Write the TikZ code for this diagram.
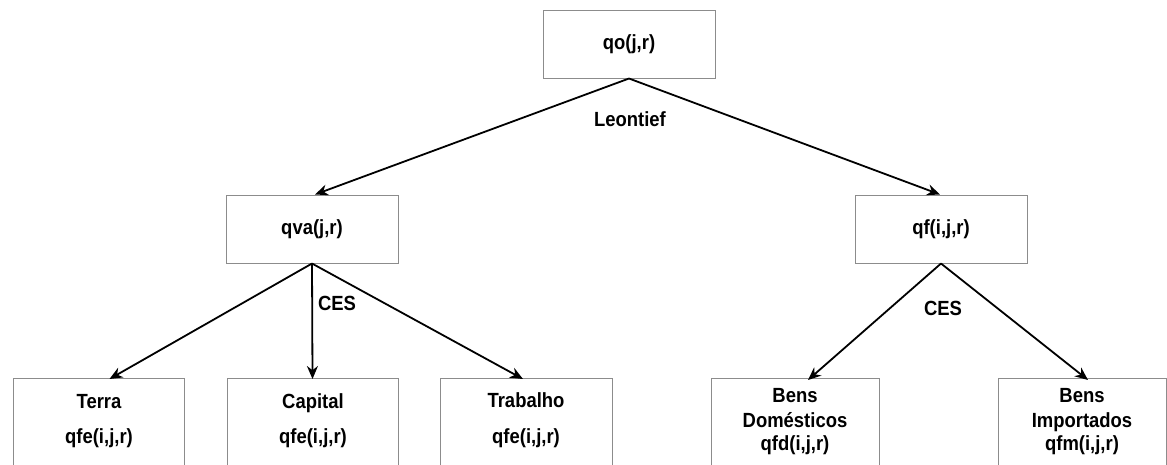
\documentclass[tikz,border=0pt]{standalone}
\usepackage{fontspec}
\setmainfont{Liberation Sans}[FakeStretch=0.9]
\usetikzlibrary{arrows.meta,calc}
\begin{document}
\begin{tikzpicture}[x=1pt,y=-1pt,
  box/.style={draw=black!45, line width=1pt, fill=white, inner sep=0pt, minimum width=172pt},
  lbl/.style={font=\fontsize{20.5}{24}\selectfont\bfseries, inner sep=0pt, align=center},
  blbl/.style={lbl, anchor=base},
  arr/.style={line width=1.8pt, -{Stealth[length=13pt,width=11pt]}}]
\useasboundingbox (0,0) rectangle (1167,464);
\clip (0,0) rectangle (1167,464);
% top and middle boxes
\node[box, minimum height=68pt] (qo) at (629,44) {};
\node[lbl] (qot) at (qo) {qo(j,r)};
\node[box, minimum height=68pt] (qva) at (312,229) {};
\node[lbl] (qvat) at (qva) {qva(j,r)};
\node[box, minimum height=68pt] (qf) at (941,229) {};
\node[lbl] (qft) at (qf) {qf(i,j,r)};
% bottom boxes (cut off by the page edge)
\node[box, minimum width=171pt, minimum height=140pt, anchor=north] (terra) at (98.5,378) {};
\node[box, minimum width=171pt, minimum height=140pt, anchor=north] (capital) at (312.5,378) {};
\node[box, minimum width=172pt, minimum height=140pt, anchor=north] (trab) at (526,378) {};
\node[box, minimum width=168pt, minimum height=140pt, anchor=north] (dom) at (795,378) {};
\node[box, minimum width=168pt, minimum height=140pt, anchor=north] (imp) at (1082,378) {};
\node[blbl] (terra1) at (99,408) {Terra};
\node[blbl] (terra2) at (99,443) {qfe(i,j,r)};
\node[blbl] (cap1) at (313,408) {Capital};
\node[blbl] (cap2) at (313,443) {qfe(i,j,r)};
\node[blbl] (trab1) at (526,407) {Trabalho};
\node[blbl] (trab2) at (526,443) {qfe(i,j,r)};
\node[blbl] (dom1) at (795,402) {Bens};
\node[blbl] (dom2) at (795,427) {Domésticos};
\node[blbl] (dom3) at (795,450) {qfd(i,j,r)};
\node[blbl] (imp1) at (1082,402) {Bens};
\node[blbl] (imp2) at (1082,427) {Importados};
\node[blbl] (imp3) at (1082,450) {qfm(i,j,r)};
% labels on connectors
\node[lbl] (leon) at (630,119) {Leontief};
\node[lbl] (ces1) at (337,303) {CES};
\node[lbl] (ces2) at (943,308) {CES};
% connectors
\draw[arr] (qo.south) -- ([xshift=3pt]qva.north);
\draw[arr] (qo.south) -- ([xshift=-1pt]qf.north);
\draw[arr] (qva.south) -- ([xshift=11pt,yshift=-1pt]terra.north);
\draw[arr] (qva.south) -- ([yshift=-1pt]capital.north);
\draw[arr] (qva.south) -- ([xshift=-3pt,yshift=-1pt]trab.north);
\draw[arr] (qf.south) -- ([xshift=13pt,yshift=-2pt]dom.north);
\draw[arr] (qf.south) -- ([xshift=6pt,yshift=-2pt]imp.north);
\end{tikzpicture}
\end{document}
